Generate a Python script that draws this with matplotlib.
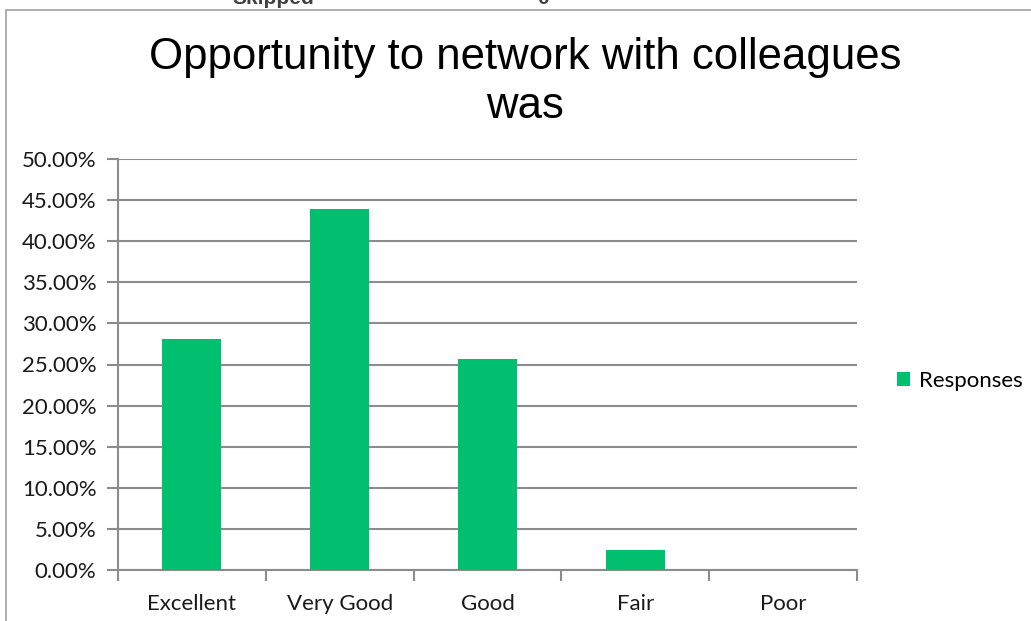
import matplotlib
matplotlib.use("Agg")
import matplotlib.pyplot as plt
from matplotlib.patches import Rectangle
import numpy as np

categories = ["Excellent", "Very Good", "Good", "Fair", "Poor"]
responses = [28.05, 43.90, 25.61, 2.44, 0.0]
yticks = [0, 5, 10, 15, 20, 25, 30, 35, 40, 45, 50]
title = "Opportunity to network with colleagues\nwas"
bar_color = "#00BF6F"
grid_color = "#8C8C8C"
tick_font = "Lato"

fig = plt.figure(figsize=(10.31, 6.21), dpi=100)
fig.patch.set_facecolor("white")

# outer chart frame
fig.patches.append(Rectangle((6/1031, -0.2), 1.2, (611/621) + 0.2, transform=fig.transFigure,
                             fill=False, edgecolor="#A0A0A0", linewidth=1.2))
# cut-off text above the chart frame (as in the reference)
fig.text(232/1031, 1.003, "Skipped", fontsize=15, fontweight="bold", color="#404040",
         family="Liberation Sans", va="center", ha="left")
fig.text(537/1031, 1.003, "0", fontsize=15, fontweight="bold", color="#404040",
         family="Liberation Sans", va="center", ha="left")

ax = fig.add_axes([118/1031, 1 - 570/621, (857-118)/1031, (570-159)/621])
x = np.arange(len(categories))
ax.bar(x, responses, width=0.4, color=bar_color, zorder=3, label="Responses")
ax.set_xlim(-0.5, len(categories) - 0.5)
ax.set_ylim(0, 50)
ax.set_yticks(yticks)
ax.set_yticklabels([f"{v:.2f}%" for v in yticks], fontsize=16, family=tick_font, color="#1A1A1A")
ax.yaxis.grid(True, color=grid_color, linewidth=1.5, zorder=0)
ax.set_xticks(np.arange(len(categories) + 1) - 0.5, minor=False)
ax.set_xticklabels([])
ax.set_xticks(x, minor=True)
ax.set_xticklabels(categories, minor=True, fontsize=16, family=tick_font, color="#1A1A1A")
ax.tick_params(axis="x", which="minor", length=0, pad=17)
ax.tick_params(axis="x", which="major", length=8, width=1.5, color=grid_color)
ax.tick_params(axis="y", length=8, width=1.5, color=grid_color, pad=7.5)
for s in ["top", "right"]:
    ax.spines[s].set_visible(False)
for s in ["left", "bottom"]:
    ax.spines[s].set_color(grid_color)
    ax.spines[s].set_linewidth(1.5)
ax.set_axisbelow(True)

fig.suptitle(title, x=525/1031, y=1 - 37/621, fontsize=31.5, family="Liberation Sans",
             va="top", linespacing=1.25)

leg = ax.legend(loc="center left", bbox_to_anchor=(1.027, 0.46), frameon=False,
                prop={"family": tick_font, "size": 16}, handlelength=0.6, handleheight=0.6,
                handletextpad=0.4)

fig.savefig("out.png", dpi=100)
